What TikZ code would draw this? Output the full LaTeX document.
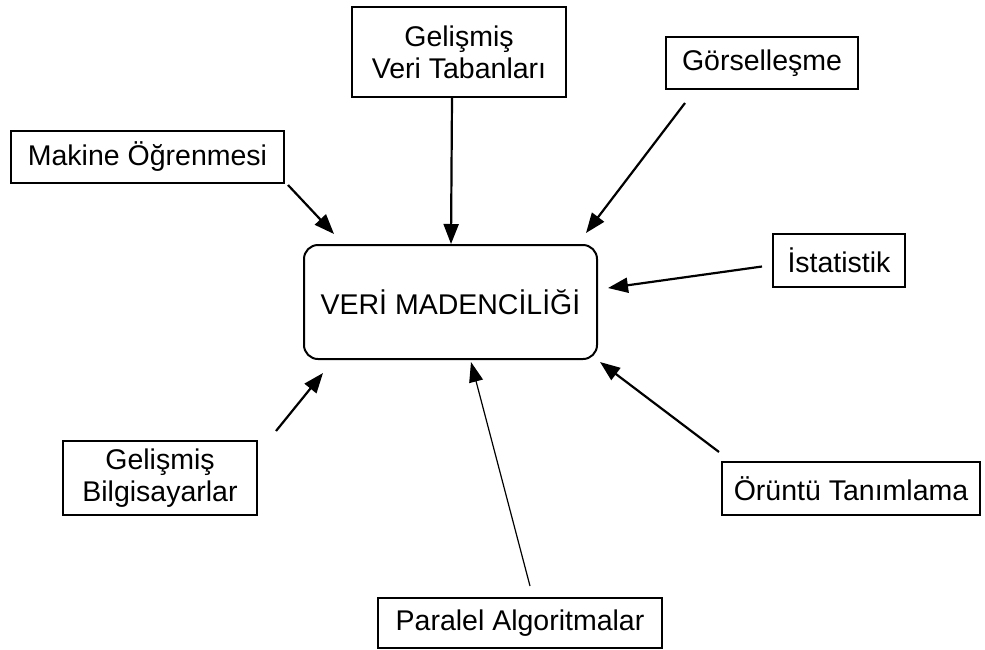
\documentclass[tikz,border=0pt]{standalone}
\usepackage{fontspec}
\setmainfont{Liberation Sans}
\usetikzlibrary{arrows.meta,calc}
\begin{document}
\begin{tikzpicture}[x=1pt,y=-1pt,
  topic/.style={draw,line width=2pt,inner sep=0pt,align=center,
    font=\fontsize{28.5}{32}\selectfont},
  feed/.style={line width=2.2pt,-{Triangle[length=20pt,width=15pt]}},
  thinfeed/.style={line width=1.2pt,-{Triangle[length=20pt,width=14pt]}}]
\useasboundingbox (0,0) rectangle (985,649);

% centre concept
\node[topic,rounded corners=14pt,minimum width=293pt,minimum height=114pt]
  (main) at (450.5,302) {VERİ MADENCİLİĞİ};

% contributing fields
\node[topic,minimum width=273pt,minimum height=52pt] (mk)  at (147.5,157) {Makine Öğrenmesi};
\node[topic,minimum width=214pt,minimum height=90pt] (gvt) at (459,52)    {Gelişmiş\\Veri Tabanları};
\node[topic,minimum width=192pt,minimum height=52pt] (gor) at (762,63)    {Görselleşme};
\node[topic,minimum width=132pt,minimum height=53pt] (ist) at (839,260.5) {İstatistik};
\node[topic,minimum width=258pt,minimum height=53pt] (oru) at (851,488.5) {Örüntü Tanımlama};
\node[topic,minimum width=194pt,minimum height=74pt] (gb)  at (160,478)   {Gelişmiş\\Bilgisayarlar};
\node[topic,minimum width=284pt,minimum height=50pt] (par) at (520,623)   {Paralel Algoritmalar};

% arrow tails
\coordinate (mk-t)  at ($(mk.south east)+(3,1)$);
\coordinate (gvt-t) at ($(gvt.south)+(-7,0)$);
\coordinate (gor-t) at ($(gor.south west)+(20,13)$);
\coordinate (ist-t) at ($(ist.west)+(-10,6)$);
\coordinate (oru-t) at ($(oru.north west)+(-2,-9)$);
\coordinate (gb-t)  at ($(gb.north east)+(18,-9)$);
\coordinate (par-t) at ($(par.north)+(10,-11)$);

% arrow tips around the centre box
\coordinate (mk-h)  at ($(main.north west)+(31,-10)$);
\coordinate (gvt-h) at ($(main.north west)+(148,0)$);
\coordinate (gor-h) at ($(main.north east)+(-12,-11)$);
\coordinate (ist-h) at ($(main.east)+(10,-14)$);
\coordinate (oru-h) at ($(main.south east)+(2,2)$);
\coordinate (gb-h)  at ($(main.south west)+(20,13)$);
\coordinate (par-h) at ($(main.south west)+(168,2)$);

\draw[feed] (mk-t) -- (mk-h);
\draw[feed] (gvt-t) -- (gvt-h);
\draw[feed] (gor-t) -- (gor-h);
\draw[feed] (ist-t) -- (ist-h);
\draw[feed] (oru-t) -- (oru-h);
\draw[feed] (gb-t) -- (gb-h);
\draw[thinfeed] (par-t) -- (par-h);
\end{tikzpicture}
\end{document}
